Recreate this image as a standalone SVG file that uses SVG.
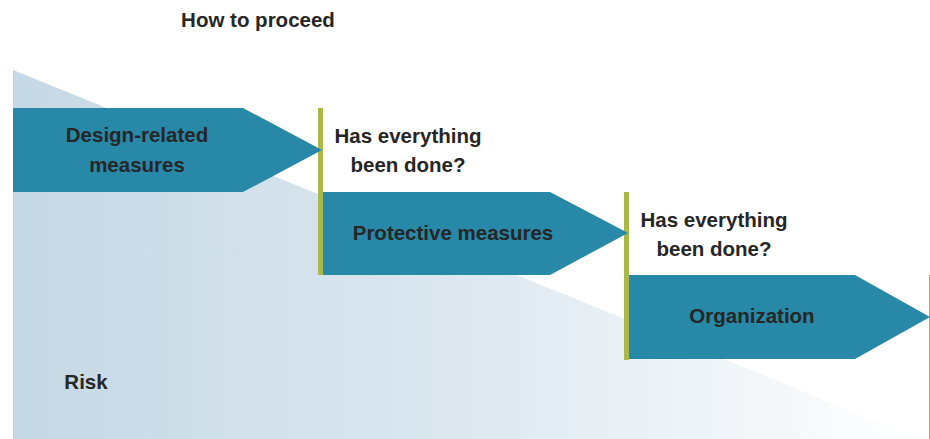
<svg xmlns="http://www.w3.org/2000/svg" width="930" height="439" viewBox="0 0 930 439">
<defs>
<linearGradient id="riskGrad" x1="13" y1="0" x2="920" y2="0" gradientUnits="userSpaceOnUse">
<stop offset="0" stop-color="#c5d8e5"/>
<stop offset="0.5" stop-color="#dde8f0"/>
<stop offset="1" stop-color="#ffffff"/>
</linearGradient>
</defs>
<style>
.lbl{font-family:"Liberation Sans",Arial,Helvetica,sans-serif;font-weight:bold;font-size:20.5px;fill:#262626;text-anchor:middle}
.arrow{fill:#2788a8}
.bar{fill:#a9b846}
</style>
<rect width="930" height="439" fill="#ffffff"/>
<g id="risk">
<polygon points="13,70 13,439 920,439" fill="url(#riskGrad)"/>
<text class="lbl" x="86" y="389">Risk</text>
</g>
<text id="title" class="lbl" x="258" y="27">How to proceed</text>
<g id="connectors">
<rect class="bar" x="318" y="108" width="5" height="167"/>
<rect class="bar" x="624" y="192" width="5" height="168"/>
<line x1="929.5" y1="275" x2="929.5" y2="439" stroke="#9fae48" stroke-width="1"/>
</g>
<g id="design">
<polygon class="arrow" points="13,108 243,108 322,150 243,192 13,192"/>
<text class="lbl" x="137" y="142">Design-related</text>
<text class="lbl" x="137" y="172">measures</text>
</g>
<g id="check1">
<text class="lbl" x="408" y="143">Has everything</text>
<text class="lbl" x="408" y="172">been done?</text>
</g>
<g id="protective">
<polygon class="arrow" points="323,192 550,192 628,233 550,275 323,275"/>
<text class="lbl" x="453" y="240">Protective measures</text>
</g>
<g id="check2">
<text class="lbl" x="714" y="227">Has everything</text>
<text class="lbl" x="714" y="256">been done?</text>
</g>
<g id="organization">
<polygon class="arrow" points="629,275 855,275 930,317 855,359 629,359"/>
<text class="lbl" x="752" y="323">Organization</text>
</g>
</svg>
